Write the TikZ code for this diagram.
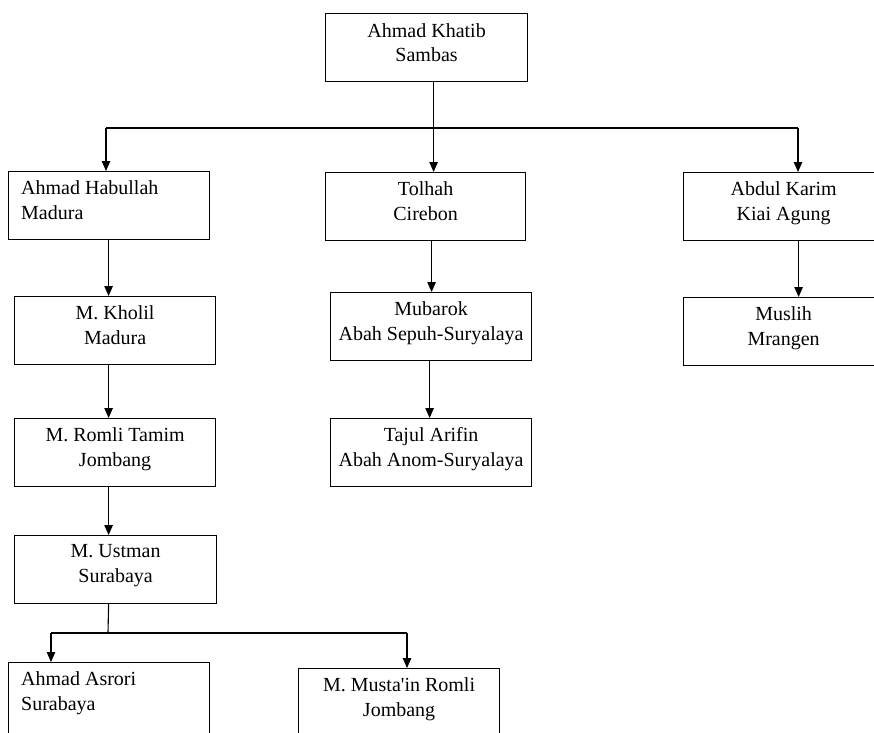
\documentclass[tikz,border=0pt]{standalone}
\usepackage{fontspec}
\setmainfont{Liberation Serif}
\usetikzlibrary{arrows.meta}
\tikzset{
  boxnode/.style={draw=black, line width=1.2pt, rectangle, inner sep=0pt,
    minimum width=#1, minimum height=68pt, anchor=north west},
  boxnode/.default=201pt,
  txtc/.style={inner sep=0pt, anchor=north, align=center,
    font=\fontsize{20}{24.5}\selectfont},
  txtl/.style={inner sep=0pt, anchor=north west, align=left,
    font=\fontsize{20}{24.5}\selectfont},
  conn/.style={draw=black, line width=1.1pt},
  arr/.style={conn, -{Triangle[length=10pt,width=8.5pt]}}
}
\begin{document}
\begin{tikzpicture}[x=1pt,y=-1pt]
\useasboundingbox (0,0) rectangle (874,732);
\clip (0,0) rectangle (874,732);
% boxes
\node[boxnode=202pt] (K)  at (325,13)  {};
\node[boxnode=201pt] (H)  at (8,171)   {};
\node[boxnode=200pt] (T)  at (325,172) {};
\node[boxnode=200pt] (A)  at (683,172) {};
\node[boxnode=201pt] (Kh) at (14,296)  {};
\node[boxnode=201pt] (Mb) at (330,292) {};
\node[boxnode=200pt] (Ms) at (683,297) {};
\node[boxnode=201pt] (R)  at (14,418)  {};
\node[boxnode=201pt] (Tj) at (330,418) {};
\node[boxnode=202pt] (U)  at (14,535)  {};
\node[boxnode=201pt, minimum height=74pt] (As) at (8,662)   {};
\node[boxnode=201pt, minimum height=74pt] (Mu) at (298,668) {};
% texts
\node[txtc] (Kt)  at ([yshift=-10pt]K.north)  {Ahmad Khatib\\Sambas};
\node[txtl] (Ht)  at ([xshift=13pt,yshift=-9.5pt]H.north west) {Ahmad Habullah\\Madura};
\node[txtc] (Tt)  at ([yshift=-9.5pt]T.north)  {Tolhah\\Cirebon};
\node[txtc] (At)  at ([yshift=-9.5pt]A.north)  {Abdul Karim\\Kiai Agung};
\node[txtc] (Kht) at ([yshift=-9.5pt]Kh.north) {M. Kholil\\Madura};
\node[txtc] (Mbt) at ([yshift=-9.5pt]Mb.north) {Mubarok\\Abah Sepuh-Suryalaya};
\node[txtc] (Mst) at ([yshift=-9.5pt]Ms.north) {Muslih\\Mrangen};
\node[txtc] (Rt)  at ([yshift=-9.5pt]R.north)  {M. Romli Tamim\\Jombang};
\node[txtc] (Tjt) at ([yshift=-9.5pt]Tj.north) {Tajul Arifin\\Abah Anom-Suryalaya};
\node[txtc] (Ut)  at ([yshift=-9.5pt]U.north)  {M. Ustman\\Surabaya};
\node[txtl] (Ast) at ([xshift=13pt,yshift=-9.5pt]As.north west) {Ahmad Asrori\\Surabaya};
\node[txtc] (Mut) at ([yshift=-9.5pt]Mu.north) {M. Musta\textquotesingle in Romli\\Jombang};
% connector points
\coordinate (k1) at ([xshift=7pt]K.south);
\coordinate (bl) at (106,128);
\coordinate (br) at (798,128);
\coordinate (h1) at ([xshift=-0.5pt]H.south);
\coordinate (kh1) at ([xshift=-6.5pt]Kh.south);
\coordinate (r1) at ([xshift=-6.5pt]R.south);
\coordinate (u1) at ([xshift=-7pt]U.south);
\coordinate (uj) at (108,633);
\coordinate (ul) at (51,633);
\coordinate (ur) at (407,633);
\coordinate (t1) at ([xshift=6pt]T.south);
\coordinate (mb1) at ([xshift=-1.5pt]Mb.south);
\coordinate (a1) at ([xshift=15pt]A.south);
% connectors
\draw[arr] (k1) -- (k1 |- T.north);
\draw[conn] (bl) -- (br);
\draw[arr] (bl) -- (bl |- H.north);
\draw[arr] (br) -- (br |- A.north);
\draw[arr] (h1) -- (h1 |- Kh.north);
\draw[arr] (kh1) -- (kh1 |- R.north);
\draw[arr] (r1) -- (r1 |- U.north);
\draw[conn] (u1) -- (uj);
\draw[conn] (ul) -- (ur);
\draw[arr] (ul) -- (ul |- As.north);
\draw[arr] (ur) -- (ur |- Mu.north);
\draw[arr] (t1) -- (t1 |- Mb.north);
\draw[arr] (mb1) -- (mb1 |- Tj.north);
\draw[arr] (a1) -- (a1 |- Ms.north);
\end{tikzpicture}
\end{document}
